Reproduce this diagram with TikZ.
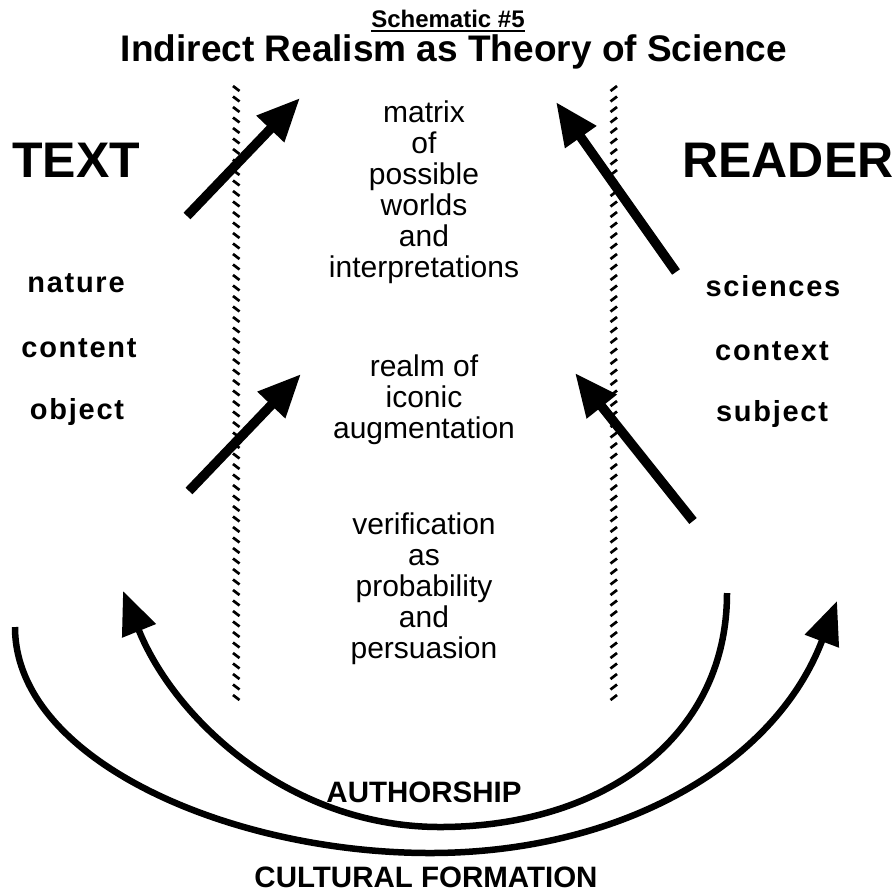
\documentclass[tikz,border=0pt]{standalone}
\usepackage{fontspec}
\setmainfont{Liberation Sans}
\usetikzlibrary{arrows.meta}
\begin{document}
\begin{tikzpicture}[x=1pt,y=-1pt,
  bigarrow/.style={line width=9.5pt,-{Triangle[width=36pt,length=43pt]}},
  arcarrow/.style={line width=6.5pt,-{Triangle[width=35pt,length=43pt]}},
  heading/.style={font=\bfseries\fontsize{50}{56}\selectfont,inner sep=0pt},
  facet/.style={font=\bfseries\fontsize{29}{32}\selectfont\addfontfeature{LetterSpace=6},inner sep=0pt},
  realm/.style={font=\fontsize{30}{31}\selectfont,align=center,inner sep=0pt},
  formation/.style={font=\bfseries\fontsize{29.5}{32}\selectfont,inner sep=0pt},
  stripe/.style={line width=2.7pt}]
\useasboundingbox (0,0) rectangle (896,892);

% titles
\node[font=\bfseries\fontsize{24}{28}\selectfont,inner sep=0pt] (sch) at (448,19) {Schematic \#5};
\draw[line width=2pt] ([yshift=-3.5pt]sch.base west) -- ([yshift=-3.5pt]sch.base east);
\node[font=\bfseries\fontsize{37}{42}\selectfont,inner sep=0pt] (title) at (454,52)
  {Indirect Realism as Theory of Science};

% the two hatched barriers
\foreach \y in {86,96.5,...,702} {
  \draw[stripe] (233,\y) -- (239.5,\y+5);
  \draw[stripe] (610.5,\y+5) -- (617,\y);
}

% side headings
\node[heading] (text) at (76,160) {TEXT};
\node[heading] (reader) at (788,160) {READER};

\node[facet] (nature) at (76,283) {nature};
\node[facet] (content) at (79,348) {content};
\node[facet] (object) at (77,412) {object};
\node[facet] (sciences) at (773,286) {sciences};
\node[facet] (context) at (772,351) {context};
\node[facet] (subject) at (772,414) {subject};

% central realms
\node[realm] (matrix) at (424,192) {matrix\\of\\possible\\worlds\\and\\interpretations};
\node[realm] (iconic) at (424,400) {realm of\\iconic\\augmentation};
\node[realm] (verif) at (424,589) {verification\\as\\probability\\and\\persuasion};

% straight arrows towards the centre
\coordinate (ulS) at (187,216); \coordinate (ulT) at (300,98);
\coordinate (llS) at (189,491); \coordinate (llT) at (301,374);
\coordinate (urS) at (676,272); \coordinate (urT) at (556,102);
\coordinate (lrS) at (693,521); \coordinate (lrT) at (575,373);
\draw[bigarrow] (ulS) -- (ulT);
\draw[bigarrow] (llS) -- (llT);
\draw[bigarrow] (urS) -- (urT);
\draw[bigarrow] (lrS) -- (lrT);

% the two sweeping arcs
\coordinate (inR) at (727,593); \coordinate (inL) at (123,591);
\coordinate (outL) at (15,627); \coordinate (outR) at (837,601);
\draw[arcarrow] (inR) .. controls (727,740) and (600,827) .. (440,827)
  .. controls (290,827) and (175,720) .. (inL);
\draw[arcarrow] (outL) .. controls (15,760) and (230,853) .. (430,853)
  .. controls (620,853) and (775,765) .. (outR);

\node[formation] (auth) at (424,792) {AUTHORSHIP};
\node[formation] (cult) at (426,877) {CULTURAL FORMATION};
\end{tikzpicture}
\end{document}
